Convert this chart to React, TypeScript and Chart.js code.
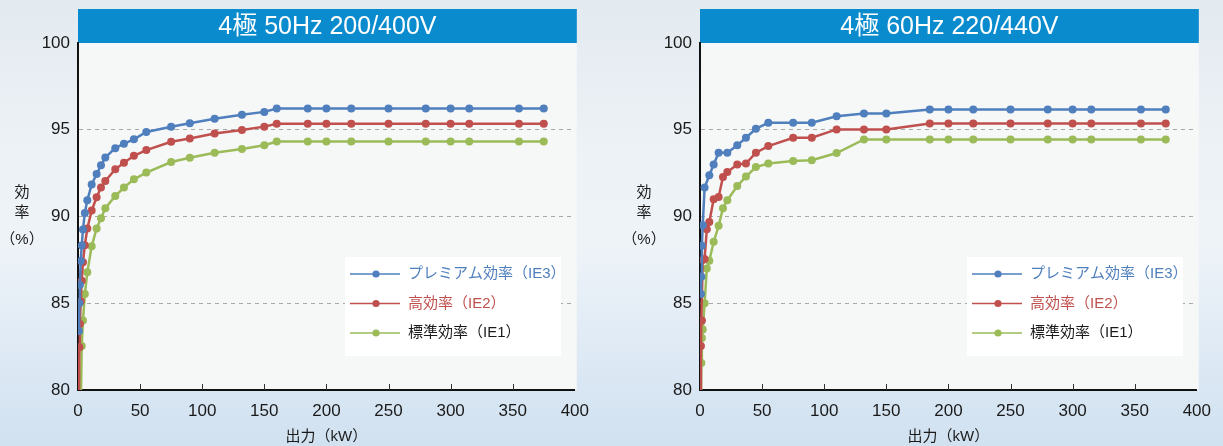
import { useEffect, useRef } from "react";
import { Chart, registerables } from "chart.js";

Chart.register(...registerables);

const FONT = "'Liberation Sans', 'Noto Sans CJK JP', sans-serif";

const seriesLabels = ["プレミアム効率（IE3）", "高効率（IE2）", "標準効率（IE1）"];
const seriesColors = ["#4f7fbd", "#c0504d", "#9bbb59"];
const legendTextColors = ["#4f7fbd", "#c0504d", "#1a1a1a"];

const titles = ["4極 50Hz 200/400V", "4極 60Hz 220/440V"];
const xTickValues = [0, 50, 100, 150, 200, 250, 300, 350, 400];
const yTickValues = [80, 85, 90, 95, 100];
const xAxisTitle = "出力（kW）";
const yAxisTitle = ["効", "率", "（%）"];

// 50Hz chart (kW)
const kw50 = [0.4, 0.75, 1.1, 1.5, 2.2, 3, 4, 5.5, 7.5, 11, 15, 18.5, 22, 30, 37, 45, 55, 75, 90, 110, 132, 150, 160, 185, 200, 220, 250, 280, 300, 315, 355, 375];
const ie3_50 = [null, 83.4, 85.0, 86.05, 87.43, 88.33, 89.25, 90.2, 90.93, 91.85, 92.45, 92.95, 93.4, 93.94, 94.2, 94.45, 94.87, 95.17, 95.38, 95.63, 95.86, 96.03, 96.22, 96.22, 96.22, 96.22, 96.22, 96.22, 96.22, 96.22, 96.22, 96.22];
const ie2_50 = [null, 79, 82.47, 83.81, 85.11, 86.3, 87.36, 88.35, 89.31, 90.34, 91.11, 91.67, 92.05, 92.72, 93.1, 93.5, 93.83, 94.31, 94.5, 94.78, 94.99, 95.18, 95.35, 95.35, 95.35, 95.35, 95.35, 95.35, 95.35, 95.35, 95.35, 95.35];
const ie1_50 = [null, null, null, null, 79, 82.53, 84.0, 85.53, 86.78, 88.28, 89.31, 89.9, 90.48, 91.18, 91.67, 92.14, 92.53, 93.14, 93.39, 93.68, 93.89, 94.11, 94.32, 94.32, 94.32, 94.32, 94.32, 94.32, 94.32, 94.32, 94.32, 94.32];

// 60Hz chart (kW)
const kw60 = [0.4, 0.75, 1.1, 1.5, 2.2, 3.7, 5.5, 7.5, 11, 15, 18.5, 22, 30, 37, 45, 55, 75, 90, 110, 132, 150, 185, 200, 220, 250, 280, 300, 315, 355, 375];
const ie3_60 = [null, 85.53, 86.53, 88.31, 89.5, 91.67, null, 92.38, 93.0, 93.68, null, 93.68, 94.1, 94.54, 95.06, 95.4, 95.4, 95.4, 95.78, 95.94, 95.94, 96.17, 96.17, 96.17, 96.17, 96.17, 96.17, 96.17, 96.17, 96.17];
const ie2_60 = [79, 82.53, 84.0, 84.0, 87.5, 87.55, 89.27, 89.69, 91.0, 91.13, 92.28, 92.56, 93.0, 93.05, 93.68, 94.06, 94.54, 94.54, 95.02, 95.02, 95.02, 95.36, 95.36, 95.36, 95.36, 95.36, 95.36, 95.36, 95.36, 95.36];
const ie1_60 = [null, 79, 81.55, 83.0, 83.48, 85.0, 87.0, 87.45, 88.54, 89.46, 90.48, 90.94, 91.76, 92.3, 92.85, 93.05, 93.2, 93.24, 93.66, 94.44, 94.44, 94.44, 94.44, 94.44, 94.44, 94.44, 94.44, 94.44, 94.44, 94.44];

const decoPlugin = {
  id: "deco",
  beforeDraw(chart: any, _args: any, opts: any) {
    const { ctx, chartArea: a } = chart;
    ctx.save();
    // plot background
    ctx.fillStyle = "#f6f7f7";
    ctx.fillRect(a.left, a.top, a.right - a.left + 2, a.bottom - a.top);
    // title bar
    ctx.fillStyle = "#0a8bcd";
    ctx.fillRect(a.left, a.top - 34, a.right - a.left + 2, 34);
    ctx.fillStyle = "#ffffff";
    ctx.font = `25px ${FONT}`;
    ctx.textAlign = "center";
    ctx.textBaseline = "middle";
    ctx.fillText(opts.title, (a.left + a.right + 2) / 2, a.top - 16);
    // y axis title (vertical stack)
    ctx.fillStyle = "#1a1a1a";
    ctx.font = `15px ${FONT}`;
    const yx = a.left - 56;
    ctx.fillText(yAxisTitle[0], yx, a.top + 150);
    ctx.fillText(yAxisTitle[1], yx, a.top + 170);
    ctx.fillText(yAxisTitle[2], yx, a.top + 197);
    ctx.restore();
  },
  afterDraw(chart: any) {
    const { ctx, chartArea: a, scales } = chart;
    ctx.save();
    // inner tick marks on x axis
    ctx.strokeStyle = "#333";
    ctx.lineWidth = 1;
    xTickValues.slice(1, -1).forEach((v) => {
      const px = Math.round(scales.x.getPixelForValue(v)) + 0.5;
      ctx.beginPath();
      ctx.moveTo(px, a.bottom);
      ctx.lineTo(px, a.bottom - 6);
      ctx.stroke();
    });
    // legend
    const bx = a.left + 267;
    const by = a.top + 214;
    ctx.fillStyle = "#ffffff";
    ctx.fillRect(bx, by, 216, 99);
    chart.data.datasets.forEach((ds: any, i: number) => {
      const ry = by + 17 + i * 29.5;
      ctx.strokeStyle = ds.borderColor;
      ctx.lineWidth = 1.5;
      ctx.beginPath();
      ctx.moveTo(bx + 5, ry);
      ctx.lineTo(bx + 55, ry);
      ctx.stroke();
      ctx.fillStyle = ds.borderColor;
      ctx.beginPath();
      ctx.arc(bx + 31, ry, 3.6, 0, Math.PI * 2);
      ctx.fill();
      ctx.fillStyle = legendTextColors[i];
      ctx.font = `15px ${FONT}`;
      ctx.textAlign = "left";
      ctx.textBaseline = "middle";
      ctx.fillText(ds.label, bx + 63, ry);
    });
    ctx.restore();
  },
};

function makeDatasets(kw: number[], series: (number | null)[][]) {
  return series.map((vals, i) => ({
    label: seriesLabels[i],
    data: kw.map((x, j) => ({ x, y: vals[j] })),
    borderColor: seriesColors[i],
    backgroundColor: seriesColors[i],
    pointBackgroundColor: seriesColors[i],
    pointBorderWidth: 0,
    pointRadius: (c: any) => (c.raw && c.raw.y !== null && c.raw.y < 80 ? 0 : 4),
    borderWidth: 2.5,
    tension: 0,
    spanGaps: true,
  }));
}

function EffChart({ title, kw, series, left }: { title: string; kw: number[]; series: (number | null)[][]; left: number }) {
  const ref = useRef<HTMLCanvasElement>(null);
  useEffect(() => {
    if (!ref.current) return;
    const chart = new Chart(ref.current, {
      type: "line",
      data: { datasets: makeDatasets(kw, series) as any },
      plugins: [decoPlugin as any],
      options: {
        animation: false,
        responsive: false,
        layout: { padding: { top: 43, right: 22, bottom: 0, left: 0 } },
        plugins: {
          legend: { display: false },
          tooltip: { enabled: false },
          deco: { title },
        } as any,
        scales: {
          x: {
            type: "linear",
            min: 0,
            max: 400,
            afterFit: (s: any) => {
              s.height = 56;
            },
            afterBuildTicks: (s: any) => {
              s.ticks = xTickValues.map((v) => ({ value: v }));
            },
            grid: { display: false, drawTicks: false },
            border: { display: true, color: "#111", width: 2 },
            ticks: {
              padding: 11,
              color: "#1a1a1a",
              font: { family: FONT, size: 17 },
              maxRotation: 0,
            },
            title: {
              display: true,
              text: xAxisTitle,
              color: "#1a1a1a",
              font: { family: FONT, size: 15 },
              padding: { top: 0, bottom: 0 },
            },
          },
          y: {
            type: "linear",
            min: 80,
            max: 100,
            afterFit: (s: any) => {
              s.width = 78;
            },
            afterBuildTicks: (s: any) => {
              s.ticks = yTickValues.map((v) => ({ value: v }));
            },
            grid: {
              drawTicks: false,
              color: (c: any) => (c.tick && (c.tick.value === 80 || c.tick.value === 100) ? "rgba(0,0,0,0)" : "#a8a8a8"),
              lineWidth: 1,
            },
            border: { display: true, color: "#111", width: 2, dash: [4, 4] as any },
            ticks: {
              padding: 8,
              color: "#1a1a1a",
              font: { family: FONT, size: 17 },
            },
          },
        },
      },
    });
    return () => chart.destroy();
  }, [title, kw, series]);
  return (
    <canvas
      ref={ref}
      width={600}
      height={446}
      style={{ position: "absolute", left, top: 0, width: 600, height: 446 }}
    />
  );
}

export default function App() {
  return (
    <div
      style={{
        position: "absolute",
        left: 0,
        top: 0,
        width: 1223,
        height: 446,
        overflow: "hidden",
        background: "linear-gradient(180deg, #e3eaf0 0%, #edf2f6 35%, #eef3f8 55%, #dfeaf5 78%, #d0e1f0 100%)",
      }}
    >
      <EffChart title={titles[0]} kw={kw50} series={[ie3_50, ie2_50, ie1_50]} left={0} />
      <EffChart title={titles[1]} kw={kw60} series={[ie3_60, ie2_60, ie1_60]} left={622} />
    </div>
  );
}
